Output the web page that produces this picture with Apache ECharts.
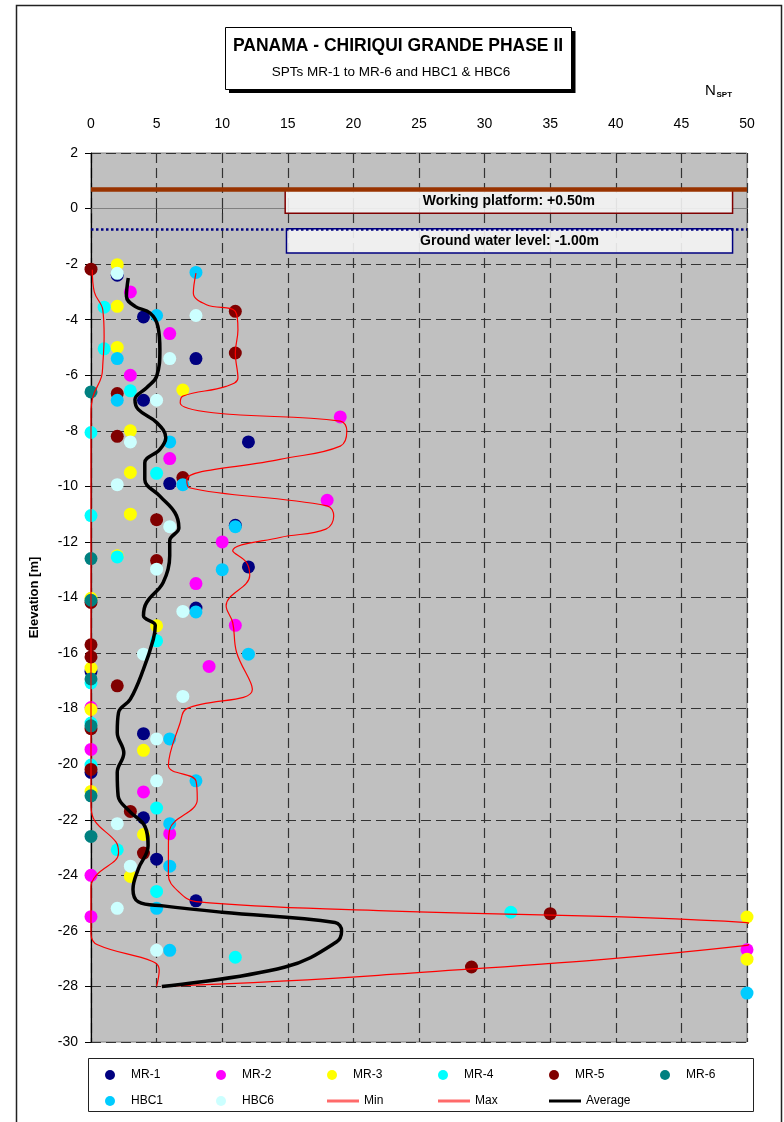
<!DOCTYPE html>
<html>
<head>
<meta charset="utf-8">
<script src="https://cdn.jsdelivr.net/npm/echarts@6/dist/echarts.min.js"></script>
<style>
html,body{margin:0;padding:0;background:#fff;}
#c{width:784px;height:1122px;}
</style>
</head>
<body>
<div id="c"></div>
<script>
// ---- data: [N_SPT, elevation m] ----
const mr1 = [[2,-2.4],[4,-3.9],[8,-5.4],[4,-6.9],[12,-8.4],[6,-9.9],[11,-11.4],[12,-12.9],[8,-14.38],[0,-16.66],[4,-18.9],[0,-20.3],[4,-21.93],[5,-23.42],[8,-24.92]];
const mr2 = [[3,-3.0],[6,-4.5],[3,-6.0],[19,-7.5],[6,-9.0],[18,-10.5],[10,-12.0],[8,-13.5],[11,-15.0],[9,-16.48],[0,-17.96],[0,-19.47],[4,-21.0],[6,-22.5],[0,-24.0],[0,-25.49],[50,-26.68]];
const mr3 = [[2,-2.02],[2,-3.52],[2,-5.0],[7,-6.53],[3,-8.0],[3,-9.5],[3,-11.0],[2,-12.5],[0,-14.03],[5,-15.02],[0,-16.54],[0,-18.03],[4,-19.5],[0,-20.98],[4,-22.53],[3,-24.04],[50,-25.5],[50,-27.02]];
const mr4 = [[1,-3.55],[1,-5.05],[3,-6.56],[0,-8.06],[5,-9.53],[0,-11.05],[2,-12.54],[5,-15.56],[0,-17.07],[0,-18.52],[0,-20.03],[5,-21.58],[2,-23.08],[5,-24.58],[32,-25.33],[11,-26.95]];
const mr5 = [[0,-2.18],[11,-3.7],[11,-5.2],[2,-6.66],[2,-8.2],[7,-9.68],[5,-11.2],[5,-12.67],[0,-14.18],[0,-15.7],[0,-16.14],[2,-17.18],[0,-18.72],[0,-20.19],[3,-21.7],[4,-23.2],[35,-25.38],[29,-27.3]];
const mr6 = [[0,-6.6],[0,-12.6],[0,-14.1],[0,-16.93],[0,-18.62],[0,-21.14],[0,-22.6]];
const hbc1 = [[8,-2.3],[5,-3.85],[2,-5.4],[2,-6.9],[6,-8.4],[7,-9.94],[11,-11.45],[10,-13.0],[8,-14.52],[12,-16.04],[6,-19.09],[8,-20.6],[6,-22.14],[6,-23.67],[5,-25.19],[6,-26.7],[50,-28.24]];
const hbc6 = [[2,-2.33],[8,-3.85],[6,-5.4],[5,-6.9],[3,-8.4],[2,-9.94],[6,-11.45],[5,-12.98],[7,-14.5],[4,-16.04],[7,-17.56],[5,-19.09],[5,-20.6],[2,-22.14],[3,-23.67],[2,-25.19],[5,-26.7]];
const minLine = [[0.1,-2.2],[0.25,-3.0],[0.9,-3.65],[1.0,-4.6],[0.9,-5.6],[0.8,-6.05],[0.15,-6.77],[0,-7.4],[0,-21.5],[0.3,-22.05],[1.9,-22.8],[2.1,-23.2],[0.4,-24.0],[0,-24.4],[0,-25.4],[0,-26.1],[0.5,-26.5],[4.7,-27.1],[5.2,-27.4],[5.0,-28.0]];
const maxLine = [[8,-2.32],[7.8,-3.04],[8.8,-3.46],[11,-3.7],[11.2,-4.36],[11,-5.2],[11.2,-6.1],[10.3,-6.4],[7.0,-6.75],[6.8,-7.0],[9.3,-7.35],[19,-7.65],[19.5,-8.0],[19,-8.55],[14.4,-9.03],[7.3,-9.75],[7.5,-10.05],[18,-10.7],[18.5,-11.07],[17.9,-11.54],[14.4,-11.84],[10.8,-12.32],[11.85,-12.74],[12.1,-13.2],[10.3,-14.3],[10.8,-14.9],[11.1,-15.98],[12.3,-17.3],[7.3,-18.0],[6.8,-18.5],[5.9,-20.05],[8,-20.6],[8.1,-21.27],[6.0,-22.35],[5.9,-22.94],[5.9,-24.0],[6.7,-24.6],[8,-24.95],[21.9,-25.27],[50,-25.7],[50.4,-26.1],[50,-26.52],[21.9,-27.6],[5.4,-28.0]];
const avgLine = [[2.84,-2.5],[2.7,-3.16],[3.35,-3.52],[4.5,-3.76],[5.1,-4.24],[5.25,-5.08],[5.0,-6.04],[4.24,-6.45],[3.35,-6.87],[3.6,-7.23],[5.0,-7.7],[5.7,-8.25],[5.25,-8.67],[4.1,-9.15],[4.1,-9.75],[5.25,-10.35],[6.4,-10.95],[6.7,-11.5],[6.0,-11.95],[6.0,-12.5],[5.5,-13.46],[4.24,-14.18],[4.0,-14.66],[4.9,-15.0],[4.75,-15.5],[4.0,-16.58],[3.0,-17.66],[2.1,-18.14],[2.0,-18.86],[2.5,-19.6],[2.0,-20.3],[2.07,-21.15],[2.95,-21.7],[4.1,-22.23],[4.35,-22.94],[3.6,-23.78],[3.2,-24.5],[3.6,-24.95],[5.5,-25.1],[10,-25.33],[18.6,-25.7],[19.1,-26.0],[18.7,-26.4],[14.8,-27.3],[5.4,-28.0]];

const pointSeries = [
  {name:'MR-1', data: mr1, color:'#000080'},
  {name:'MR-2', data: mr2, color:'#FF00FF'},
  {name:'MR-3', data: mr3, color:'#FFFF00'},
  {name:'MR-4', data: mr4, color:'#00FFFF'},
  {name:'MR-5', data: mr5, color:'#800000'},
  {name:'MR-6', data: mr6, color:'#008080'},
  {name:'HBC1', data: hbc1, color:'#00CCFF'},
  {name:'HBC6', data: hbc6, color:'#CCFFFF'}
];
const legendRow1 = ['MR-1','MR-2','MR-3','MR-4','MR-5','MR-6'];
const legendRow2 = ['HBC1','HBC6','Min','Max','Average'];

const FONT = 'Liberation Sans';
const chart = echarts.init(document.getElementById('c'), null, {renderer:'canvas'});

const series = pointSeries.map(s => ({
  name: s.name, type: 'scatter', data: s.data, symbol: 'circle', symbolSize: 13,
  itemStyle: {color: s.color, opacity: 1}, clip: false, z: 3, emphasis:{disabled:true}
}));
series.push({
  name:'Min', type:'line', data: minLine, smooth: 0.4, showSymbol:false, symbol:'none',
  lineStyle:{color:'#FF0000', width:1.2}, itemStyle:{color:'#ff6a6a'}, z:4, clip:false
});
series.push({
  name:'Max', type:'line', data: maxLine, smooth: 0.4, showSymbol:false, symbol:'none',
  lineStyle:{color:'#FF0000', width:1.2}, itemStyle:{color:'#ff6a6a'}, z:4, clip:false
});
series.push({
  name:'Average', type:'line', data: avgLine, smooth: 0.4, showSymbol:false, symbol:'none',
  lineStyle:{color:'#000000', width:3.5}, itemStyle:{color:'#000000'}, z:5, clip:false
});
// annotations (platform / ground water)
series.push({
  name:'annot', type:'scatter', data: [], z: 2,
  markLine: {
    silent:true, symbol:['none','none'], label:{show:false},
    data: [
      {yAxis: 0.7, lineStyle:{color:'#993300', width:4.5, type:'solid'}},
      {yAxis: -0.75, lineStyle:{color:'#000080', width:2.5, type:[2.5,2.5]}}
    ]
  },
  markArea: {
    silent:true,
    data: [
      [{xAxis:14.8, yAxis:0.67, itemStyle:{color:'rgba(244,244,244,0.9)', borderColor:'#800000', borderWidth:1.5},
        label:{show:true, position:'inside', formatter:'Working platform: +0.50m', color:'#000', fontFamily:FONT, fontWeight:'bold', fontSize:14}},
       {xAxis:48.9, yAxis:-0.17}],
      [{xAxis:14.9, yAxis:-0.73, itemStyle:{color:'rgba(244,244,244,0.9)', borderColor:'#000080', borderWidth:1.5},
        label:{show:true, position:'inside', formatter:'Ground water level: -1.00m', color:'#000', fontFamily:FONT, fontWeight:'bold', fontSize:14}},
       {xAxis:48.9, yAxis:-1.6}]
    ]
  }
});

const isLineItem = n => n === 'Min' || n === 'Max' || n === 'Average';
const legends = [];
function addLegendRow(names, top) {
  names.forEach((n, i) => {
    const line = isLineItem(n);
    legends.push({
      left: 105 + 111 * i, top: top,
      itemWidth: 32, itemHeight: line ? 3 : 10, itemGap: 0, padding: 0, selectedMode: false,
      icon: line ? 'rect' : 'circle',
      textStyle: {fontFamily: FONT, fontSize: 12, color: '#000', lineHeight: 14},
      data: [n]
    });
  });
}
addLegendRow(legendRow1, 1068);
addLegendRow(legendRow2, 1094);

const option = {
  animation: false,
  backgroundColor: '#ffffff',
  grid: {left: 91, top: 153, right: 37, bottom: 80, show: true, backgroundColor: '#C0C0C0', borderColor: '#808080', borderWidth: 1},
  xAxis: {
    type: 'value', position: 'top', min: 0, max: 50, interval: 5,
    axisLine: {show: true, lineStyle: {color: '#808080', width: 1}},
    axisTick: {show: true, inside: true, length: 5, lineStyle:{color:'#222'}},
    axisLabel: {margin: 22, fontFamily: FONT, fontSize: 14, color: '#000'},
    splitLine: {show: true, lineStyle: {color: '#333', width: 1.2, type: [10, 5]}}
  },
  yAxis: {
    type: 'value', min: -30, max: 2, interval: 2,
    name: 'Elevation [m]', nameLocation: 'middle', nameGap: 50, nameRotate: 90,
    nameTextStyle: {fontFamily: FONT, fontWeight: 'bold', fontSize: 13, color: '#000'},
    axisLine: {show: true, onZero: false, lineStyle: {color: '#000', width: 1.2}},
    axisTick: {show: true, length: 6, lineStyle:{color:'#000'}},
    axisLabel: {margin: 13, fontFamily: FONT, fontSize: 14, color: '#000'},
    splitLine: {show: true, lineStyle: {color: '#333', width: 1.2, type: [10, 5]}}
  },
  legend: legends,
  graphic: [
    {type:'rect', z:-10, shape:{x:16.5, y:5.5, width:765, height:1140}, style:{fill:'#fff', stroke:'#222', lineWidth:1.5}, silent:true},
    {type:'rect', z:-5, shape:{x:88.5, y:1058.5, width:665, height:53}, style:{fill:'#fff', stroke:'#222', lineWidth:1}, silent:true},
    {type:'rect', z:10, shape:{x:229, y:31, width:346.5, height:62}, style:{fill:'#000'}, silent:true},
    {type:'rect', z:11, shape:{x:225.5, y:27.5, width:346, height:62}, style:{fill:'#fff', stroke:'#000', lineWidth:1}, silent:true},
    {type:'text', z:12, x:398, y:46, style:{text:'PANAMA - CHIRIQUI GRANDE PHASE II', align:'center', verticalAlign:'middle', fontFamily:FONT, fontWeight:'bold', fontSize:17.5, fill:'#000'}, silent:true},
    {type:'text', z:12, x:391, y:72, style:{text:'SPTs MR-1 to MR-6 and HBC1 & HBC6', align:'center', verticalAlign:'middle', fontFamily:FONT, fontSize:13.5, fill:'#000'}, silent:true},
    {type:'text', z:12, x:705, y:91, style:{text:'N', align:'left', verticalAlign:'middle', fontFamily:FONT, fontSize:15, fill:'#000'}, silent:true},
    {type:'text', z:12, x:716.5, y:95, style:{text:'SPT', align:'left', verticalAlign:'middle', fontFamily:FONT, fontSize:8, fontWeight:'bold', fill:'#000'}, silent:true}
  ],
  series: series
};
chart.setOption(option);
</script>
</body>
</html>
